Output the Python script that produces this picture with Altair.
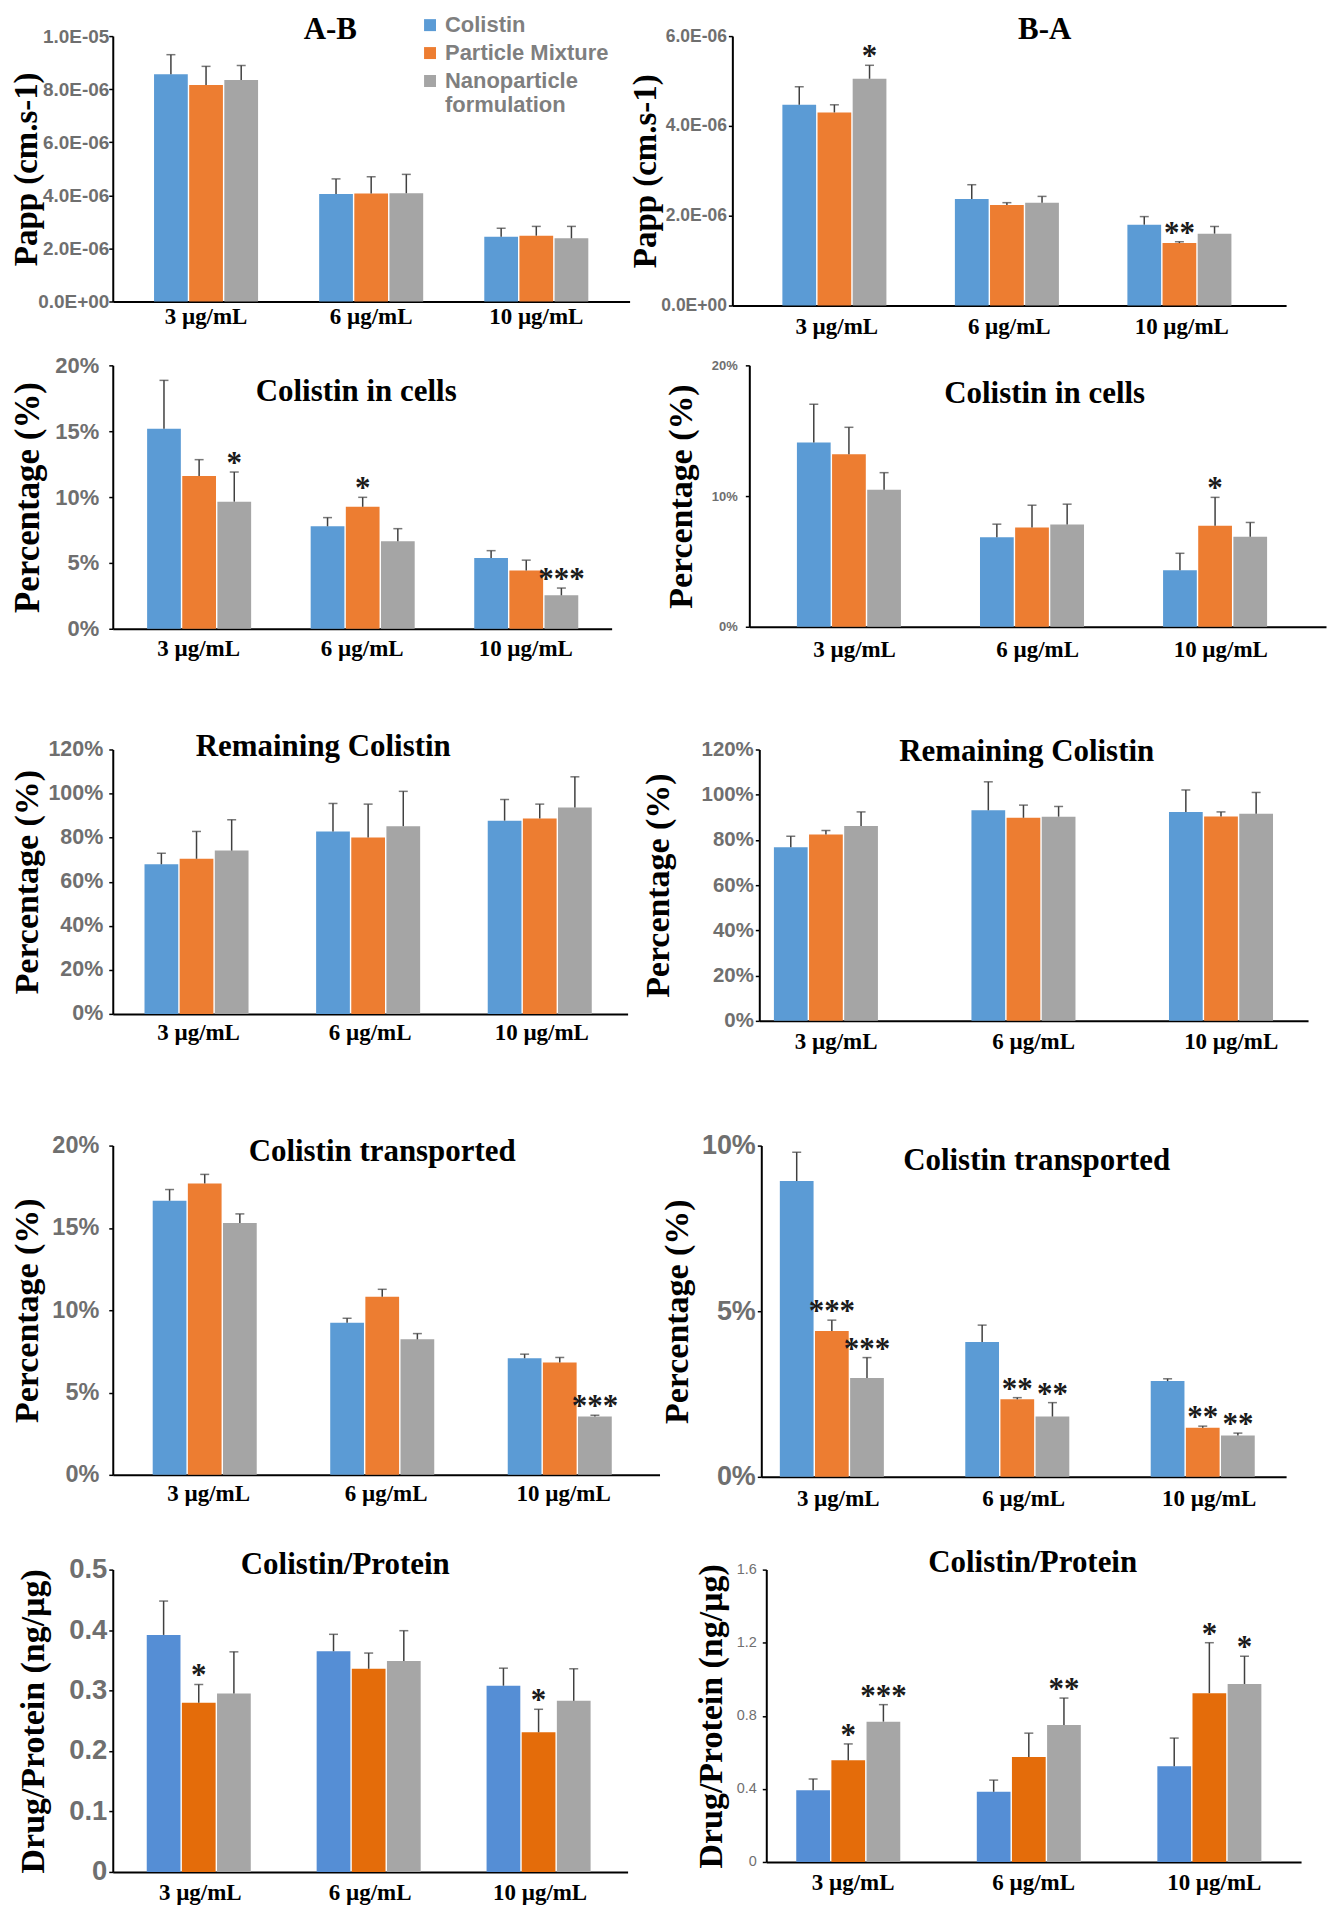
import altair as alt
import pandas as pd

concs = ["3 µg/mL", "6 µg/mL", "10 µg/mL"]
series = ["Colistin", "Particle Mixture", "Nanoparticle formulation"]
colors_main = ["#5B9BD5", "#ED7D31", "#A5A5A5"]
colors_prot = ["#558ED5", "#E46C0A", "#A6A6A6"]

# rows = concentration, columns = series (Colistin, Particle Mixture, Nanoparticle formulation)
ab_mean = [[8.56e-6, 8.16e-6, 8.35e-6], [4.05e-6, 4.07e-6, 4.08e-6], [2.44e-6, 2.48e-6, 2.38e-6]]
ab_err = [[0.74e-6, 0.70e-6, 0.54e-6], [0.57e-6, 0.63e-6, 0.71e-6], [0.32e-6, 0.35e-6, 0.45e-6]]
ab_sig = [["", "", ""], ["", "", ""], ["", "", ""]]

ba_mean = [[4.47e-6, 4.30e-6, 5.05e-6], [2.37e-6, 2.24e-6, 2.29e-6], [1.80e-6, 1.39e-6, 1.60e-6]]
ba_err = [[0.40e-6, 0.17e-6, 0.30e-6], [0.32e-6, 0.05e-6, 0.14e-6], [0.18e-6, 0.03e-6, 0.16e-6]]
ba_sig = [["", "", "*"], ["", "", ""], ["", "**", ""]]

cells_ab_mean = [[15.19, 11.60, 9.65], [7.78, 9.26, 6.64], [5.38, 4.42, 2.54]]
cells_ab_err = [[3.67, 1.24, 2.25], [0.66, 0.72, 0.96], [0.55, 0.79, 0.55]]
cells_ab_sig = [["", "", "*"], ["", "*", ""], ["", "", "***"]]

cells_ba_mean = [[14.09, 13.19, 10.49], [6.84, 7.59, 7.82], [4.33, 7.72, 6.89]]
cells_ba_err = [[2.93, 2.07, 1.30], [1.01, 1.71, 1.56], [1.29, 2.18, 1.09]]
cells_ba_sig = [["", "", ""], ["", "", ""], ["", "*", ""]]

rem_ab_mean = [[67.9, 70.4, 74.1], [82.8, 80.0, 85.2], [87.7, 88.7, 93.7]]
rem_ab_err = [[5.0, 12.4, 14.0], [12.7, 15.2, 15.8], [9.6, 6.5, 13.9]]
rem_ab_sig = [["", "", ""], ["", "", ""], ["", "", ""]]

rem_ba_mean = [[76.8, 82.4, 86.2], [93.1, 89.8, 90.3], [92.4, 90.4, 91.6]]
rem_ba_err = [[4.8, 1.8, 6.2], [12.6, 5.6, 4.5], [9.7, 2.0, 9.4]]
rem_ba_sig = [["", "", ""], ["", "", ""], ["", "", ""]]

tr_ab_mean = [[16.65, 17.70, 15.30], [9.24, 10.82, 8.23], [7.08, 6.82, 3.55]]
tr_ab_err = [[0.68, 0.55, 0.55], [0.27, 0.45, 0.35], [0.25, 0.31, 0.07]]
tr_ab_sig = [["", "", ""], ["", "", ""], ["", "", "***"]]

tr_ba_mean = [[8.93, 4.40, 2.98], [4.07, 2.34, 1.82], [2.89, 1.48, 1.25]]
tr_ba_err = [[0.87, 0.33, 0.62], [0.51, 0.05, 0.42], [0.07, 0.05, 0.07]]
tr_ba_sig = [["", "***", "***"], ["", "**", "**"], ["", "**", "**"]]

pr_ab_mean = [[0.392, 0.280, 0.295], [0.365, 0.336, 0.349], [0.308, 0.231, 0.283]]
pr_ab_err = [[0.056, 0.030, 0.069], [0.028, 0.026, 0.050], [0.029, 0.038, 0.053]]
pr_ab_sig = [["", "*", ""], ["", "", ""], ["", "*", ""]]

pr_ba_mean = [[0.393, 0.556, 0.768], [0.384, 0.574, 0.750], [0.524, 0.924, 0.974]]
pr_ba_err = [[0.061, 0.090, 0.093], [0.064, 0.131, 0.147], [0.154, 0.276, 0.152]]
pr_ba_sig = [["", "*", "***"], ["", "", "**"], ["", "*", "*"]]

PAPP_EXPR = ("datum.value == 0 ? '0.0E+00' : (round(datum.value*1e6) >= 10 ? '1.0E-05' : "
             "round(datum.value*1e6) + '.0E-06')")
PCT_EXPR = "datum.value + '%'"

# page layout (pixels): row bands, plot tops, column split per row
ROW_Y = [8, 342, 700, 1090, 1528, 1912]
TOPS = [30, 360, 745, 1142, 1567]
SPLIT_X = [628, 635, 633, 658, 650]
PAGE_X0, PAGE_X1 = 8, 1329
LX = 110


def make_df(mean, err, sig):
    recs = []
    for i, c in enumerate(concs):
        for j, s in enumerate(series):
            recs.append(dict(conc=c, series=s, mean=mean[i][j],
                             top=mean[i][j] + err[i][j], sig=sig[i][j]))
    return pd.DataFrame(recs)


def panel(mean, err, sig, domain, ticks, ytitle, title, plot, box, title_xy,
          ytitle_cx, colors, tick_font, tick_pad, xlab_pad, pad_outer, label_expr=None,
          fmt=None, legend=None, tick_weight="bold", ytitle_font=34):
    px, py, w, h = plot
    bx0, bx1, by0, by1 = box
    df = make_df(mean, err, sig)
    ak = dict(values=ticks, title=ytitle, grid=False, domainColor="black", domainWidth=2,
              tickColor="black", tickSize=4, tickWidth=1.5, labelFont="Liberation Sans",
              labelFontWeight=tick_weight, labelFontSize=tick_font, labelColor="#6F6F6F",
              labelPadding=tick_pad, titleFont="Liberation Serif", titleFontSize=ytitle_font,
              titleFontWeight="bold", titleColor="black", titleAngle=270,
              titleBaseline="middle", titleX=ytitle_cx - px)
    if label_expr:
        ak["labelExpr"] = label_expr
    if fmt:
        ak["format"] = fmt
    yaxis = alt.Axis(**ak)
    yscale = alt.Scale(domain=domain, nice=False, zero=True)
    xaxis = alt.Axis(title=None, labelAngle=0, labelFont="Liberation Serif",
                     labelFontWeight="bold", labelFontSize=23, labelColor="black",
                     labelPadding=xlab_pad, ticks=False, domainColor="black", domainWidth=2,
                     grid=False)
    x = alt.X("conc:N", sort=concs,
              scale=alt.Scale(paddingInner=0.37, paddingOuter=pad_outer), axis=xaxis)
    xo = alt.XOffset("series:N", sort=series, scale=alt.Scale(paddingInner=0.04, paddingOuter=0))
    color = alt.Color("series:N", sort=series,
                      scale=alt.Scale(domain=series, range=colors), legend=legend)
    base = alt.Chart(df)
    bars = base.mark_bar().encode(
        x=x, xOffset=xo, y=alt.Y("mean:Q", scale=yscale, axis=yaxis), color=color)
    rules = base.mark_rule(color="#404040", strokeWidth=1.5).encode(
        x=x, xOffset=xo, y=alt.Y("mean:Q", scale=yscale, axis=yaxis), y2="top:Q")
    caps = base.mark_tick(color="#404040", thickness=1.5, size=9).encode(
        x=x, xOffset=xo, y=alt.Y("top:Q", scale=yscale, axis=yaxis))
    stars = base.mark_text(font="Liberation Serif", fontWeight="bold", fontSize=31,
                           color="#1a1a1a", baseline="alphabetic", dy=1).encode(
        x=x, xOffset=xo, y=alt.Y("top:Q", scale=yscale, axis=yaxis), text="sig:N")
    ttl = alt.Chart(pd.DataFrame({"t": [title]})).mark_text(
        font="Liberation Serif", fontWeight="bold", fontSize=31, color="black",
        align="center", baseline="middle").encode(
        x=alt.value(title_xy[0] - px), y=alt.value(title_xy[1] - py), text="t:N")
    # invisible frame fixing this panel's share of the page
    frame = alt.Chart(pd.DataFrame({"a": [0]})).mark_rect(opacity=0).encode(
        x=alt.value(bx0 - px), x2=alt.value(bx1 - px),
        y=alt.value(by0 - py), y2=alt.value(by1 - py))
    return alt.layer(frame, bars, rules, caps, stars, ttl).properties(width=w, height=h)


legend1 = alt.Legend(orient="none", legendX=307, legendY=-22, title=None,
                     labelFont="Liberation Sans", labelFontWeight="bold", labelFontSize=22,
                     labelColor="#7F7F7F", symbolType="square", symbolSize=144,
                     symbolStrokeWidth=0, rowPadding=6, labelLimit=0,
                     labelExpr="datum.label == 'Nanoparticle formulation' ? ['Nanoparticle', 'formulation'] : datum.label")

papp_t = "Papp (cm.s-1)"
pct_t = "Percentage (%)"
prot_t = "Drug/Protein (ng/µg)"

# plot areas (x, y, width, height) in page pixels
plotL = [(LX, TOPS[0], 518, 266), (LX, TOPS[1], 500, 264), (LX, TOPS[2], 516, 265),
         (LX, TOPS[3], 548, 330), (LX, TOPS[4], 516, 303)]
plotR = [(731, TOPS[0], 555, 270), (748, TOPS[1], 578, 262), (758, TOPS[2], 550, 272),
         (760, TOPS[3], 526, 332), (765, TOPS[4], 536, 293)]


def boxL(i):
    return (PAGE_X0, SPLIT_X[i], ROW_Y[i], ROW_Y[i + 1])


def boxR(i):
    return (SPLIT_X[i], PAGE_X1, ROW_Y[i], ROW_Y[i + 1])


p1 = panel(ab_mean, ab_err, ab_sig, [0, 1e-5], [0, 2e-6, 4e-6, 6e-6, 8e-6, 1e-5], papp_t,
           "A-B", plotL[0], boxL(0), (328, 24), 24, colors_main, 19, 0, 4, 0.25,
           label_expr=PAPP_EXPR, legend=legend1, ytitle_font=33)
p2 = panel(ba_mean, ba_err, ba_sig, [0, 6e-6], [0, 2e-6, 4e-6, 6e-6], papp_t,
           "B-A", plotR[0], boxR(0), (1044, 24), 644, colors_main, 17.5, 2, 10, 0.29,
           label_expr=PAPP_EXPR, ytitle_font=33)
p3 = panel(cells_ab_mean, cells_ab_err, cells_ab_sig, [0, 20], [0, 5, 10, 15, 20], pct_t,
           "Colistin in cells", plotL[1], boxL(1), (354, 387), 25, colors_main, 22, 10, 9, 0.21,
           label_expr=PCT_EXPR, ytitle_font=35)
p4 = panel(cells_ba_mean, cells_ba_err, cells_ba_sig, [0, 20], [0, 10, 20], pct_t,
           "Colistin in cells", plotR[1], boxR(1), (1044, 389), 680, colors_main, 13, 8, 12, 0.26,
           label_expr=PCT_EXPR)
p5 = panel(rem_ab_mean, rem_ab_err, rem_ab_sig, [0, 120], [0, 20, 40, 60, 80, 100, 120], pct_t,
           "Remaining Colistin", plotL[2], boxL(2), (321, 743), 25, colors_main, 21.5, 6, 8, 0.185,
           label_expr=PCT_EXPR)
p6 = panel(rem_ba_mean, rem_ba_err, rem_ba_sig, [0, 120], [0, 20, 40, 60, 80, 100, 120], pct_t,
           "Remaining Colistin", plotR[2], boxR(2), (1026, 748), 657, colors_main, 20.5, 2, 10, 0.074,
           label_expr=PCT_EXPR)
p7 = panel(tr_ab_mean, tr_ab_err, tr_ab_sig, [0, 20], [0, 5, 10, 15, 20], pct_t,
           "Colistin transported", plotL[3], boxL(3), (380, 1148), 25, colors_main, 23.5, 10, 8, 0.225,
           label_expr=PCT_EXPR)
p8 = panel(tr_ba_mean, tr_ba_err, tr_ba_sig, [0, 10], [0, 5, 10], pct_t,
           "Colistin transported", plotR[3], boxR(3), (1036, 1157), 676, colors_main, 27, 2, 11, 0.1,
           label_expr=PCT_EXPR)
p9 = panel(pr_ab_mean, pr_ab_err, pr_ab_sig, [0, 0.5], [0, 0.1, 0.2, 0.3, 0.4, 0.5], prot_t,
           "Colistin/Protein", plotL[4], boxL(4), (343, 1562), 31, colors_prot, 27.5, 2, 10, 0.2,
           fmt="~g")
p10 = panel(pr_ba_mean, pr_ba_err, pr_ba_sig, [0, 1.6], [0, 0.4, 0.8, 1.2, 1.6], prot_t,
            "Colistin/Protein", plotR[4], boxR(4), (1032, 1560), 710, colors_prot, 14.5, 6, 10, 0.166,
            fmt="~g", tick_weight="normal")

pairs = [(p1, p2), (p3, p4), (p5, p6), (p7, p8), (p9, p10)]
rows = [alt.hconcat(a, b, spacing=0).resolve_scale(color="independent") for a, b in pairs]

chart = alt.vconcat(*rows, spacing=0).resolve_scale(color="independent").configure_view(
    stroke=None).properties(padding={"top": 4, "left": 3, "right": 0, "bottom": 0})

chart.save("out.html", embed_options={"renderer": "svg", "actions": False})
